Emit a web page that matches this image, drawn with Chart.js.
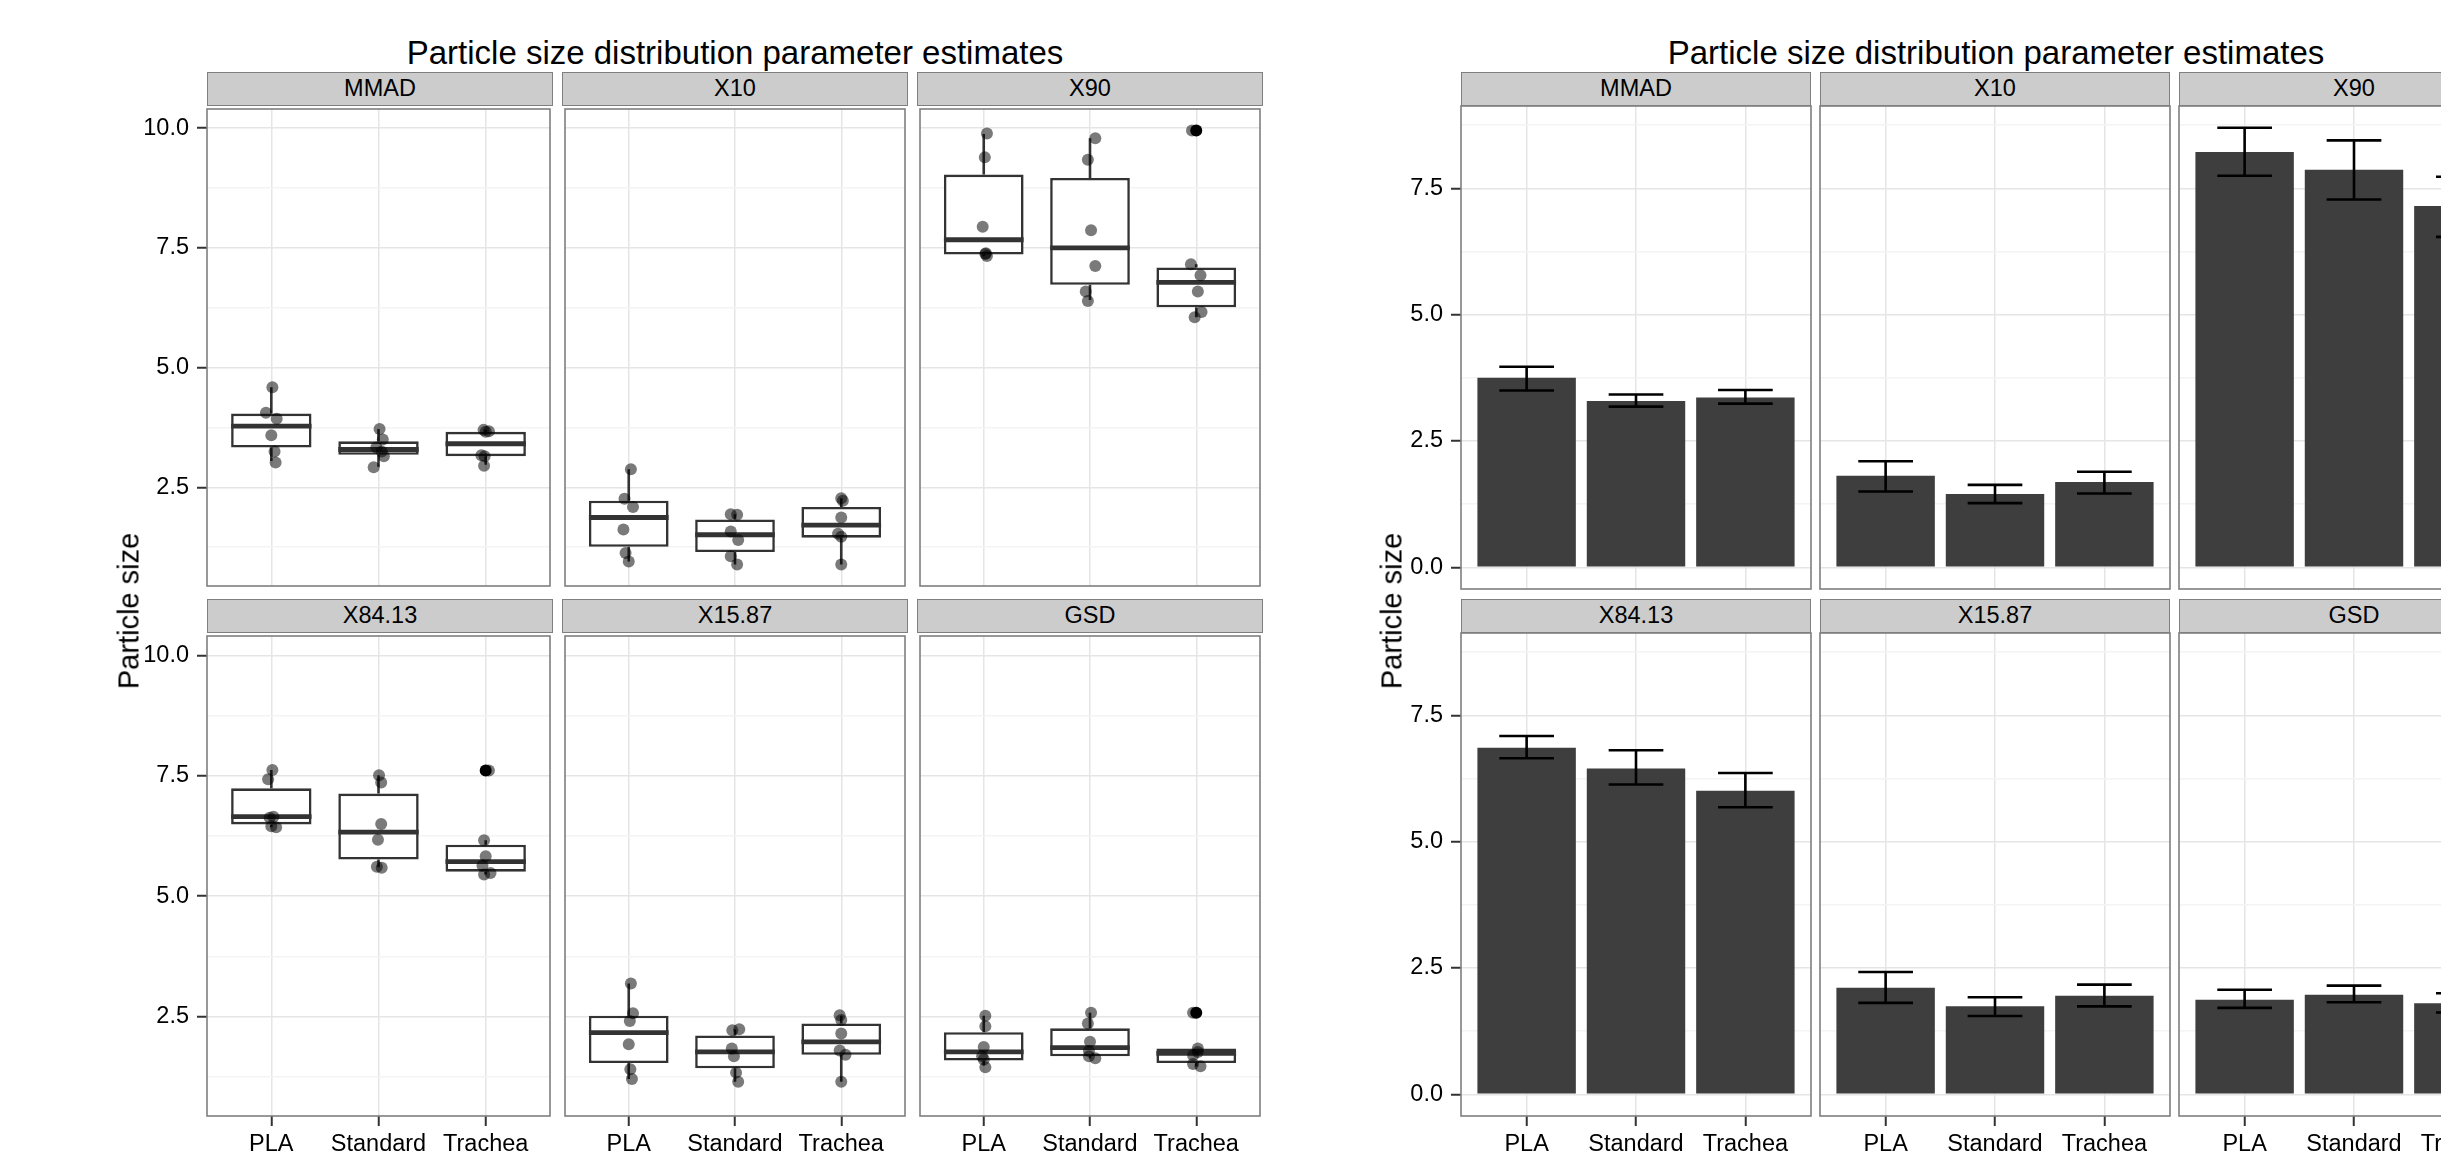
<!DOCTYPE html>
<html>
<head>
<meta charset="utf-8">
<script src="https://cdn.jsdelivr.net/npm/chart.js@4.4.1/dist/chart.umd.min.js"></script>
<style>
  body { margin: 0; width: 2441px; height: 1153px; overflow: hidden; background: #fff; position: relative;
         font-family: "Liberation Sans", Arial, Helvetica, sans-serif; color: #000; }
  .title { position: absolute; top: 36px; font-size: 33px; line-height: 33px; white-space: nowrap; transform: translateX(-50%); }
  .ytitle { position: absolute; font-size: 29px; white-space: nowrap; transform: translate(-50%, -50%) rotate(-90deg); }
  .strip { position: absolute; height: 34px; box-sizing: border-box; background: #cccccc; border: 1.5px solid #7f7f7f;
           text-align: center; font-size: 23.5px; line-height: 31px; }
  canvas { position: absolute; }
</style>
</head>
<body>
<script>
// ---- data ----
const groups = ["PLA", "Standard", "Trachea"];
const facetNames = ["MMAD", "X10", "X90", "X84.13", "X15.87", "GSD"];

// boxplot summaries per group: [lower whisker, Q1, median, Q3, upper whisker]
const boxMMAD  = [[3.05, 3.33, 3.78, 4.04, 4.59], [2.93, 3.18, 3.29, 3.46, 3.72], [2.97, 3.15, 3.41, 3.66, 3.70]];
const boxX10   = [[0.95, 1.26, 1.87, 2.22, 2.88], [0.89, 1.15, 1.51, 1.83, 1.94], [0.89, 1.45, 1.71, 2.09, 2.27]];
const boxX90   = [[7.33, 7.36, 7.67, 9.03, 9.88], [6.41, 6.73, 7.50, 8.96, 9.79], [6.05, 6.26, 6.78, 7.09, 7.16]];
const boxX8413 = [[6.43, 6.49, 6.65, 7.24, 7.62], [5.60, 5.76, 6.33, 7.13, 7.51], [5.45, 5.51, 5.72, 6.07, 6.16]];
const boxX1587 = [[1.21, 1.54, 2.17, 2.52, 3.19], [1.15, 1.43, 1.77, 2.11, 2.24], [1.15, 1.71, 1.98, 2.36, 2.52]];
const boxGSD   = [[1.49, 1.59, 1.77, 2.18, 2.52], [1.64, 1.68, 1.86, 2.26, 2.58], [1.47, 1.54, 1.74, 1.84, 1.84]];

// boxplot outliers
const outMMAD = [[], [], []];
const outX10 = [[], [], []];
const outX90 = [[], [], [9.95]];
const outX8413 = [[], [], [7.61]];
const outX1587 = [[], [], []];
const outGSD = [[], [], [2.58]];

// individual observations
const obsMMAD  = [[4.59, 4.06, 3.93, 3.59, 3.25, 3.02], [3.72, 3.50, 3.33, 3.25, 3.15, 2.92], [3.70, 3.67, 3.66, 3.17, 3.15, 2.95]];
const obsX10   = [[2.88, 2.26, 2.09, 1.62, 1.13, 0.95], [1.94, 1.93, 1.58, 1.40, 1.06, 0.89], [2.27, 2.22, 1.87, 1.53, 1.47, 0.89]];
const obsX90   = [[9.89, 9.39, 7.94, 7.39, 7.33, 7.37], [9.79, 9.34, 7.87, 7.12, 6.59, 6.39], [9.95, 7.16, 6.93, 6.59, 6.16, 6.05]];
const obsX8413 = [[7.62, 7.43, 6.65, 6.63, 6.45, 6.43], [7.51, 7.36, 6.50, 6.17, 5.61, 5.59], [7.61, 6.16, 5.83, 5.64, 5.48, 5.45]];
const obsX1587 = [[3.19, 2.57, 2.41, 1.93, 1.41, 1.21], [2.24, 2.22, 1.84, 1.68, 1.34, 1.15], [2.53, 2.43, 2.15, 1.80, 1.71, 1.15]];
const obsGSD   = [[2.52, 2.30, 1.87, 1.68, 1.61, 1.45], [2.58, 2.36, 1.98, 1.79, 1.68, 1.64], [2.58, 1.84, 1.77, 1.70, 1.52, 1.47]];

// horizontal jitter of each observation (category units)
const jitMMAD  = [[0.01, -0.05, 0.05, 0.0, 0.03, 0.04], [0.01, 0.04, -0.02, 0.03, 0.05, -0.045], [-0.02, 0.03, 0.0, -0.04, -0.01, -0.015]];
const jitX10   = [[0.02, -0.04, 0.04, -0.05, -0.03, 0.0], [-0.04, 0.02, -0.04, 0.03, -0.04, 0.02], [0.0, 0.015, 0.0, -0.03, 0.0, 0.0]];
const jitX90   = [[0.03, 0.01, -0.01, 0.02, 0.03, 0.015], [0.05, -0.02, 0.01, 0.05, -0.04, -0.02], [-0.04, -0.05, 0.04, 0.015, 0.05, -0.015]];
const jitX8413 = [[0.01, -0.03, 0.02, -0.015, 0.0, 0.045], [0.005, 0.025, 0.025, -0.005, -0.015, 0.03], [0.03, -0.015, 0.0, -0.03, 0.045, -0.015]];
const jitX1587 = [[0.02, 0.04, 0.01, 0.0, 0.015, 0.03], [0.04, -0.025, -0.03, -0.01, 0.01, 0.03], [-0.015, 0.0, 0.0, -0.015, 0.04, 0.0]];
const jitGSD   = [[0.015, 0.015, 0.0, -0.015, 0.0, 0.015], [0.01, -0.02, 0.0, -0.01, -0.01, 0.05], [-0.03, 0.015, 0.015, -0.03, -0.03, 0.04]];

// bar chart: means with error bar limits
const meanMMAD = [3.75, 3.29, 3.36],  loMMAD = [3.50, 3.18, 3.24],  hiMMAD = [3.97, 3.42, 3.51];
const meanX10 = [1.81, 1.45, 1.69],   loX10 = [1.50, 1.27, 1.46],   hiX10 = [2.10, 1.63, 1.89];
const meanX90 = [8.22, 7.87, 7.15],   loX90 = [7.75, 7.28, 6.54],   hiX90 = [8.70, 8.45, 7.73];
const meanX8413 = [6.86, 6.45, 6.01], loX8413 = [6.65, 6.13, 5.68], hiX8413 = [7.09, 6.81, 6.36];
const meanX1587 = [2.11, 1.74, 1.95], loX1587 = [1.81, 1.55, 1.74], hiX1587 = [2.42, 1.92, 2.17];
const meanGSD = [1.87, 1.97, 1.80],   loGSD = [1.71, 1.82, 1.62],   hiGSD = [2.07, 2.15, 2.00];

// axes
const boxTicks = [1.25, 2.5, 3.75, 5, 6.25, 7.5, 8.75, 10];
const barTicks = [0, 1.25, 2.5, 3.75, 5, 6.25, 7.5, 8.75];
const boxRange = [0.44, 10.40];
const barRange = [-0.43, 9.13];

const chartTitle = "Particle size distribution parameter estimates";
const yTitle = "Particle size";

// ---- layout ----
const FONT = '"Liberation Sans", Arial, Helvetica, sans-serif';
const rows = [{ strip: 72, top: 106 }, { strip: 599, top: 633 }];
const PANEL_H = 483, Y_AX_W = 90, X_AX_H = 37, PAD = 3;

const leftPlot = { lefts: [207, 562, 917], width: 346, range: boxRange, ticks: boxTicks, titleX: 735, yTitleX: 129 };
const rightPlot = { lefts: [1461, 1820, 2179], width: 350, range: barRange, ticks: barTicks, titleX: 1996, yTitleX: 1392 };

const isMajor = v => Math.abs(v / 2.5 - Math.round(v / 2.5)) < 1e-6;

const borderPlugin = {
  id: 'panelBorder',
  afterDraw(chart) {
    const { ctx, chartArea: a } = chart;
    ctx.save();
    ctx.strokeStyle = '#7f7f7f';
    ctx.lineWidth = 1.6;
    ctx.strokeRect(a.left, a.top, a.right - a.left, a.bottom - a.top);
    ctx.restore();
  }
};

// whiskers + median on top of the box bars
function boxExtras(boxes) {
  return {
    id: 'boxExtras',
    afterDatasetDraw(chart, args) {
      if (args.meta.type !== 'bar') return;
      const { ctx, scales: { x, y } } = chart;
      ctx.save();
      ctx.strokeStyle = '#333333';
      boxes.forEach((b, i) => {
        const cx = x.getPixelForValue(i + 1);
        const l = x.getPixelForValue(i + 1 - 0.375);
        const r = x.getPixelForValue(i + 1 + 0.375);
        ctx.lineWidth = 2.6;
        ctx.beginPath();
        ctx.moveTo(cx, y.getPixelForValue(b[4])); ctx.lineTo(cx, y.getPixelForValue(b[3]));
        ctx.moveTo(cx, y.getPixelForValue(b[1])); ctx.lineTo(cx, y.getPixelForValue(b[0]));
        ctx.stroke();
        const ym = y.getPixelForValue(b[2]);
        ctx.lineWidth = 4.8;
        ctx.beginPath();
        ctx.moveTo(l, ym); ctx.lineTo(r, ym);
        ctx.stroke();
      });
      ctx.restore();
    }
  };
}

function errorBars(lo, hi) {
  return {
    id: 'errorBars',
    afterDatasetsDraw(chart) {
      const { ctx, scales: { x, y } } = chart;
      ctx.save();
      ctx.strokeStyle = '#000';
      ctx.lineWidth = 2.6;
      lo.forEach((v, i) => {
        const cx = x.getPixelForValue(i + 1);
        const l = x.getPixelForValue(i + 0.75), r = x.getPixelForValue(i + 1.25);
        const yl = y.getPixelForValue(v), yh = y.getPixelForValue(hi[i]);
        ctx.beginPath();
        ctx.moveTo(l, yh); ctx.lineTo(r, yh);
        ctx.moveTo(cx, yh); ctx.lineTo(cx, yl);
        ctx.moveTo(l, yl); ctx.lineTo(r, yl);
        ctx.stroke();
      });
      ctx.restore();
    }
  };
}

function addText(cls, text, styles) {
  const d = document.createElement('div');
  d.className = cls;
  d.textContent = text;
  Object.assign(d.style, styles);
  document.body.appendChild(d);
}

function makePanel(plot, idx, datasets, plugin) {
  const row = Math.floor(idx / 3), col = idx % 3;
  const left = plot.lefts[col], top = rows[row].top, w = plot.width;
  const showY = col === 0, showX = row === 1;
  const padL = showY ? Y_AX_W : PAD, padB = showX ? X_AX_H : PAD;

  addText('strip', facetNames[idx], { left: left + 'px', top: rows[row].strip + 'px', width: w + 'px' });

  const canvas = document.createElement('canvas');
  const cw = w + padL + PAD, ch = PANEL_H + PAD + padB;
  canvas.width = cw; canvas.height = ch;
  Object.assign(canvas.style, { left: (left - padL) + 'px', top: (top - PAD) + 'px', width: cw + 'px', height: ch + 'px' });
  document.body.appendChild(canvas);

  const zeroPad = s => { s.paddingTop = 0; s.paddingBottom = 0; s.paddingLeft = 0; s.paddingRight = 0; };

  new Chart(canvas, {
    type: 'bar',
    data: { datasets },
    options: {
      responsive: false,
      animation: false,
      layout: { padding: { left: showY ? 0 : PAD, right: PAD, top: PAD, bottom: showX ? 0 : PAD } },
      plugins: { legend: { display: false }, tooltip: { enabled: false } },
      scales: {
        x: {
          type: 'linear', min: 0.4, max: 3.6, offset: false,
          afterBuildTicks: s => { s.ticks = groups.map((g, i) => ({ value: i + 1 })); },
          afterFit: s => { s.height = showX ? X_AX_H : 0; zeroPad(s); },
          grid: { offset: false, color: '#e5e5e5', lineWidth: 1.5, drawTicks: showX, tickLength: 10, tickColor: '#333', tickWidth: 2 },
          border: { display: false },
          ticks: { display: showX, padding: 4, color: '#000', font: { family: FONT, size: 23.5 },
                   maxRotation: 0, autoSkip: false, callback: v => groups[Math.round(v) - 1] }
        },
        y: {
          type: 'linear', min: plot.range[0], max: plot.range[1],
          afterBuildTicks: s => { s.ticks = plot.ticks.map(v => ({ value: v })); },
          afterFit: s => { s.width = showY ? Y_AX_W : 0; zeroPad(s); },
          grid: {
            color: c => (c.tick && isMajor(c.tick.value)) ? '#e5e5e5' : '#f4f4f4',
            lineWidth: 1.5, drawTicks: showY, tickLength: 10, tickWidth: 2,
            tickColor: c => (c.tick && isMajor(c.tick.value)) ? '#333' : 'rgba(0,0,0,0)'
          },
          border: { display: false },
          ticks: { display: showY, padding: 8, color: '#000', font: { family: FONT, size: 23.5 }, autoSkip: false,
                   callback: v => isMajor(v) ? v.toFixed(1) : '' }
        }
      }
    },
    plugins: [plugin, borderPlugin]
  });
}

// ---- left: boxplots with jittered points ----
const boxSets = [
  [boxMMAD, obsMMAD, jitMMAD, outMMAD],
  [boxX10, obsX10, jitX10, outX10],
  [boxX90, obsX90, jitX90, outX90],
  [boxX8413, obsX8413, jitX8413, outX8413],
  [boxX1587, obsX1587, jitX1587, outX1587],
  [boxGSD, obsGSD, jitGSD, outGSD]
];

boxSets.forEach(([boxes, obs, jit, outs], idx) => {
  const points = [];
  obs.forEach((vals, g) => vals.forEach((v, k) => points.push({ x: g + 1 + jit[g][k], y: v })));
  const outliers = [];
  outs.forEach((vals, g) => vals.forEach(v => outliers.push({ x: g + 1, y: v })));
  makePanel(leftPlot, idx, [
    { type: 'scatter', data: points, pointRadius: 6, backgroundColor: 'rgba(0,0,0,0.52)', borderWidth: 0 },
    { type: 'scatter', data: outliers, pointRadius: 6, backgroundColor: '#000', borderWidth: 0 },
    { type: 'bar', data: boxes.map((b, g) => ({ x: g + 1, y: [b[1], b[3]] })),
      backgroundColor: '#fff', borderColor: '#333333', borderWidth: 2.6, borderSkipped: false,
      barPercentage: 0.75, categoryPercentage: 1 }
  ], boxExtras(boxes));
});

// ---- right: mean bars with error bars ----
const barSets = [
  [meanMMAD, loMMAD, hiMMAD],
  [meanX10, loX10, hiX10],
  [meanX90, loX90, hiX90],
  [meanX8413, loX8413, hiX8413],
  [meanX1587, loX1587, hiX1587],
  [meanGSD, loGSD, hiGSD]
];

barSets.forEach(([means, lo, hi], idx) => {
  makePanel(rightPlot, idx, [
    { type: 'bar', data: means.map((m, g) => ({ x: g + 1, y: m })), backgroundColor: '#3e3e3e',
      borderWidth: 0, barPercentage: 0.9, categoryPercentage: 1 }
  ], errorBars(lo, hi));
});

[leftPlot, rightPlot].forEach(p => {
  addText('title', chartTitle, { left: p.titleX + 'px' });
  addText('ytitle', yTitle, { left: p.yTitleX + 'px', top: '611px' });
});
</script>
</body>
</html>
